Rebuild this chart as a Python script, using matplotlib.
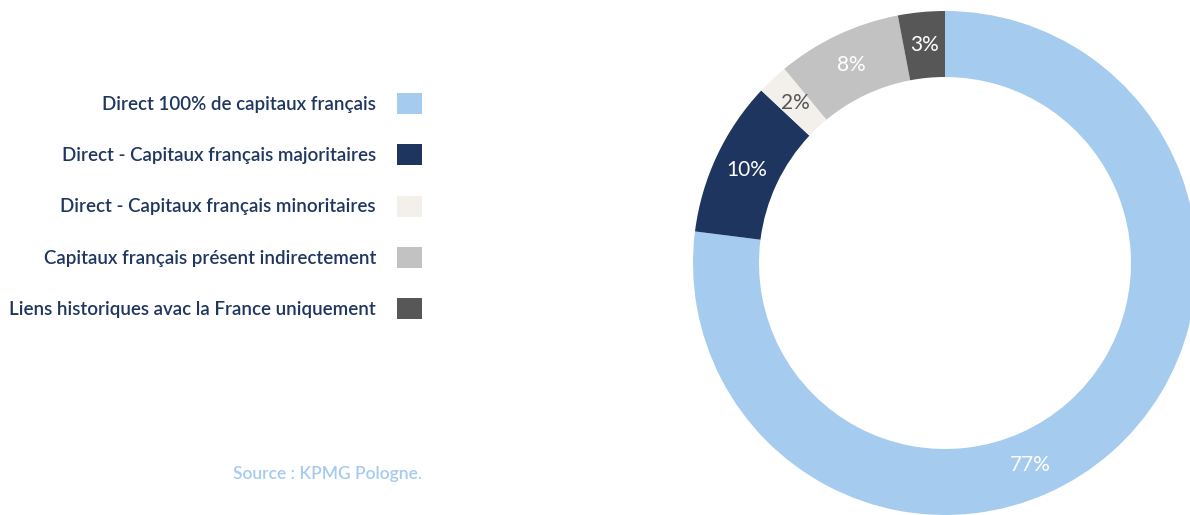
import matplotlib
matplotlib.use("Agg")
import numpy as np
import matplotlib.pyplot as plt

# data
labels = ["Direct 100% de capitaux français",
          "Direct - Capitaux français majoritaires",
          "Direct - Capitaux français minoritaires",
          "Capitaux français présent indirectement",
          "Liens historiques avac la France uniquement"]
values = [77, 10, 2, 8, 3]
colors = ["#a5cbee", "#1e365f", "#f3f0ec", "#c2c2c2", "#575757"]
pct_colors = ["white", "white", "#555555", "white", "white"]
source = "Source : KPMG Pologne."

plt.rcParams['font.family'] = ['Lato', 'DejaVu Sans']

W, H = 1190, 515
fig = plt.figure(figsize=(W / 100, H / 100), dpi=100)
ax = fig.add_axes([0, 0, 1, 1])

# donut in pixel-like data coordinates
cx, cy, r_out, r_in = 945, 252, 252, 186
r_mid = (r_out + r_in) / 2
wedges, texts, autotexts = ax.pie(values, colors=colors, startangle=90, counterclock=False,
                                  center=(cx, cy), radius=r_out,
                                  autopct='%d%%', pctdistance=r_mid / r_out,
                                  wedgeprops=dict(width=r_out - r_in, linewidth=0),
                                  textprops=dict(fontsize=15))
for t, c in zip(autotexts, pct_colors):
    t.set_color(c)
# the big slice label sits lower than its mid angle in the original
a = np.deg2rad(90 - 157)
autotexts[0].set_position((cx + r_mid * np.cos(a), cy + r_mid * np.sin(a)))

ax.set_xlim(0, W)
ax.set_ylim(0, H)
ax.set_aspect('equal')
ax.axis('off')

# legend on the left, labels before the colour squares
fs = 13.5
px = fs * 100 / 72
leg = ax.legend(wedges, labels, loc='upper right', bbox_to_anchor=(422 / W, 1 - 93 / H),
                bbox_transform=fig.transFigure, markerfirst=False, frameon=False,
                prop=dict(size=fs, weight='semibold'), borderpad=0, borderaxespad=0,
                handlelength=25 / px, handleheight=25 / px,
                handletextpad=21 / px, labelspacing=30.5 / px)
for t in leg.get_texts():
    t.set_color("#1f3660")

fig.text(422 / W, 1 - 474 / H, source, ha='right', va='center', fontsize=12.5,
         fontweight='semibold', color="#a5cbee")

plt.savefig("out.png", dpi=100)
